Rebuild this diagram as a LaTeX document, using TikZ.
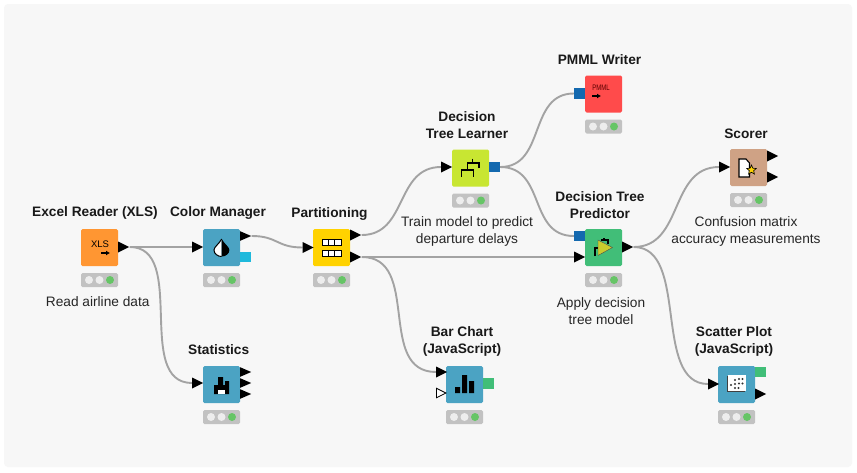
\documentclass[tikz,border=0pt]{standalone}
\usepackage{fontspec}
\setmainfont{Liberation Sans}
\usetikzlibrary{shapes.geometric,backgrounds,arrows.meta}
\definecolor{pagebg}{HTML}{F7F7F7}
\definecolor{wire}{HTML}{A3A3A3}
\definecolor{cOrange}{HTML}{FF9632}
\definecolor{cBlue}{HTML}{4BA3C3}
\definecolor{cYellow}{HTML}{FFD200}
\definecolor{cLime}{HTML}{C8E632}
\definecolor{cRed}{HTML}{FF4B4B}
\definecolor{cGreen}{HTML}{41BE78}
\definecolor{cTan}{HTML}{CFA285}
\definecolor{modelport}{HTML}{1469AF}
\definecolor{flowport}{HTML}{1EB9DC}
\definecolor{imgport}{HTML}{41BE78}
\definecolor{statusbg}{HTML}{C2C2C2}
\definecolor{lampoff}{HTML}{EDEDED}
\definecolor{lampon}{HTML}{66C566}
\definecolor{predtri}{HTML}{C8CC2D}
\tikzset{
 x=1pt,y=-1pt,
 knode/.style={rectangle,rounded corners=1.5pt,minimum width=37pt,minimum height=37pt,inner sep=0pt,draw=none},
 tri/.style={isosceles triangle,isosceles triangle stretches,shape border rotate=0,minimum width=11pt,minimum height=11pt,inner sep=0pt,fill=black,anchor=west},
 hollowtri/.style={tri,fill=white,draw=black,line width=0.8pt,minimum width=9.5pt,minimum height=9.5pt},
 sq/.style={rectangle,minimum width=11pt,minimum height=10.5pt,inner sep=0pt,draw=none},
 wirepath/.style={draw=wire,line width=1.9pt},
 title/.style={font=\fontsize{13.7}{17}\selectfont\bfseries,text=black!90,align=center,inner sep=0pt},
 note/.style={font=\fontsize{13.7}{17}\selectfont,text=black!85,align=center,inner sep=0pt},
 icon/.style={line width=1.3pt,draw=black,line cap=butt},
 arrowicon/.style={draw=black,line width=1.5pt,-{Latex[length=4pt,width=5pt]}}
}
\newcommand{\lamps}[2]{%
 \fill[statusbg,rounded corners=1.5pt] (#1-18.5,#2+25.5) rectangle (#1+18.5,#2+39.5);
 \fill[lampoff] (#1-10.5,#2+32.5) circle (4pt);
 \fill[lampoff] (#1,#2+32.5) circle (4pt);
 \fill[lampon] (#1+10.5,#2+32.5) circle (4pt);
}
\begin{document}
\begin{tikzpicture}
\useasboundingbox (0,0) rectangle (857,472);

% boxes
\node[knode,fill=cOrange] (excel) at (99.5,247.5) {};
\node[knode,fill=cBlue] (color) at (221.5,247.5) {};
\node[knode,fill=cBlue] (stats) at (221.5,384.5) {};
\node[knode,fill=cYellow] (part) at (331.5,247.5) {};
\node[knode,fill=cLime] (learner) at (470.5,168) {};
\node[knode,fill=cRed] (pmml) at (603.5,94) {};
\node[knode,fill=cTan] (scorer) at (748.5,167.5) {};
\node[knode,fill=cGreen] (pred) at (603.5,247.5) {};
\node[knode,fill=cBlue] (bar) at (464.5,384.5) {};
\node[knode,fill=cBlue] (scatter) at (736.5,384.5) {};

% status lamps
\lamps{99.5}{247.5}\lamps{221.5}{247.5}\lamps{221.5}{384.5}\lamps{331.5}{247.5}
\lamps{470.5}{168}\lamps{603.5}{94}\lamps{748.5}{167.5}\lamps{603.5}{247.5}
\lamps{464.5}{384.5}\lamps{736.5}{384.5}

% ports
\node[tri] (excelOut) at (118,247) {};
\node[tri] (colorIn) at (192,247) {};
\node[tri,minimum width=9.5pt] (colorOut) at (240,236) {};
\node[sq,fill=flowport] (colorFlow) at (245.5,257) {};
\node[tri] (statsIn) at (192,383) {};
\node[tri,minimum width=9.5pt] (statsOutA) at (240,372) {};
\node[tri,minimum width=9.5pt] (statsOutB) at (240,383) {};
\node[tri,minimum width=9.5pt] (statsOutC) at (240,394) {};
\node[tri] (partIn) at (302.5,247.5) {};
\node[tri] (partOutA) at (350,235) {};
\node[tri] (partOutB) at (350,257) {};
\node[tri] (learnerIn) at (441,167) {};
\node[sq,fill=modelport] (learnerOut) at (494.5,167) {};
\node[sq,fill=modelport] (pmmlIn) at (579.5,93.5) {};
\node[tri] (scorerIn) at (719,167) {};
\node[tri] (scorerOutA) at (767,156) {};
\node[tri] (scorerOutB) at (767,177) {};
\node[sq,fill=modelport] (predModel) at (579.5,236) {};
\node[tri] (predIn) at (574,257) {};
\node[tri] (predOut) at (622,247) {};
\node[tri] (barIn) at (436,372) {};
\node[hollowtri] (barInB) at (436,393) {};
\node[sq,fill=imgport] (barOut) at (488,383.5) {};
\node[tri] (scatterIn) at (708,384) {};
\node[sq,fill=imgport] (scatterImg) at (760,372) {};
\node[tri] (scatterOut) at (755,394) {};

% connectors
\begin{scope}[on background layer]
\fill[white] (0,0) rectangle (857,472);
\fill[pagebg,rounded corners=4pt] (4,4) rectangle (852,467);
\draw[wirepath] (excelOut.east) -- (colorIn.west);
\draw[wirepath] (excelOut.east) .. controls +(58,0) and +(-58,0) .. (statsIn.west);
\draw[wirepath] (colorOut.east) .. controls +(26,0) and +(-26,0) .. (partIn.west);
\draw[wirepath] (partOutA.east) .. controls +(46,0) and +(-46,0) .. (learnerIn.west);
\draw[wirepath] (partOutB.east) -- (predIn.west);
\draw[wirepath] (partOutB.east) .. controls +(60,0) and +(-60,0) .. (barIn.west);
\draw[wirepath] (learnerOut.east) .. controls +(46,0) and +(-46,0) .. (pmmlIn.west);
\draw[wirepath] (learnerOut.east) .. controls +(46,0) and +(-46,0) .. (predModel.west);
\draw[wirepath] (predOut.east) .. controls +(50,0) and +(-50,0) .. (scorerIn.west);
\draw[wirepath] (predOut.east) .. controls +(56,0) and +(-56,0) .. (scatterIn.west);
\end{scope}

% icons
\node[font=\fontsize{9.5}{10}\selectfont,inner sep=0pt,text=black] (xlsText) at (100,244) {XLS};
\draw[arrowicon] (101,253) -- (110,253);
\node[font=\fontsize{8}{9}\selectfont,inner sep=0pt,text=black!65!red,xscale=0.75] (pmmlText) at (601,88) {PMML};
\draw[arrowicon] (592,96) -- (601,96);
% drop
\fill[white] (221.7,239) .. controls (219,244) and (214,247) .. (214,250) .. controls (214,254) and (218,256.5) .. (221.7,256.5) -- cycle;
\fill[black] (221.7,239) .. controls (224.4,244) and (229.4,247) .. (229.4,250) .. controls (229.4,254) and (225.4,256.5) .. (221.7,256.5) -- cycle;
\draw[black,line width=1pt] (221.7,239) .. controls (219,244) and (214,247) .. (214,250) .. controls (214,254) and (218,256.5) .. (221.7,256.5);
% statistics glyph
\fill[black] (214,394) -- (214,385) -- (218,385) -- (218,377) -- (223,377) -- (223,385) -- (225,385) -- (225,381) -- (229,381) -- (229,394) -- cycle;
\fill[white] (218,390) rectangle (225,394);
% partition tables
\foreach \yy in {239,250}{
 \draw[black,line width=1pt,fill=white] (322,\yy) rectangle (341,\yy+6.5);
 \draw[black,line width=1pt] (328.3,\yy) -- (328.3,\yy+6.5) (334.6,\yy) -- (334.6,\yy+6.5);
}
% tree
\draw[icon] (472.7,158.5) -- (472.7,163) (479,168) -- (479,163) -- (467.7,163) -- (467.7,170) (461.7,176.5) -- (461.7,170) -- (473.7,170) -- (473.7,176.5);
% predictor
\draw[icon,line width=1.1pt] (595,256) -- (595,248) -- (598,248) (601,240) -- (608,240) -- (608,244) (604,240) -- (604,237.5);
\fill[predtri,draw=black!70,line width=0.4pt] (598,240) -- (612.5,247.5) -- (598,255.5) -- cycle;
% scorer
\draw[black,line width=1.1pt,fill=white] (739,159) -- (746,159) -- (749.5,163) -- (749.5,177) -- (739,177) -- cycle;
\node[star,star points=5,star point ratio=2.2,minimum size=10pt,inner sep=0pt,fill=cYellow,draw=black,line width=0.6pt] (scorerStar) at (751.5,170) {};
% bars
\fill[black] (455,387) rectangle (460,393) (462,375) rectangle (467,393) (469,381) rectangle (474,393);
% scatter
\fill[black!75] (727,376) rectangle (745,392);
\fill[white] (728,375) rectangle (746,390.5);
\foreach \dx/\dy in {735/380,739/379,742.5/379,735/384,739/383.5,742.5/383.5,731/385,735/388,738.5/388}
 \fill[black!80] (\dx,\dy) circle (1.1pt);

% labels
\node[title] (tExcel) at (95,213) {Excel Reader (XLS)};
\node[title] (tColor) at (218,213) {Color Manager};
\node[title] (tStats) at (218.7,350) {Statistics};
\node[title] (tPart) at (329.5,213.5) {Partitioning};
\node[title] (tLearner) at (467,125.5) {Decision\\Tree Learner};
\node[title] (tPmml) at (599.5,60) {PMML Writer};
\node[title] (tScorer) at (746,134) {Scorer};
\node[title] (tPred) at (600,205.5) {Decision Tree\\Predictor};
\node[title] (tBar) at (462,341.5) {Bar Chart\\(JavaScript)};
\node[title] (tScatter) at (734,341.5) {Scatter Plot\\(JavaScript)};
\node[note] (nRead) at (97.7,302) {Read airline data};
\node[note] (nTrain) at (467,231.5) {Train model to predict\\departure delays};
\node[note] (nConf) at (746,231.5) {Confusion matrix\\accuracy measurements};
\node[note] (nApply) at (601,311) {Apply decision\\tree model};
\end{tikzpicture}
\end{document}
